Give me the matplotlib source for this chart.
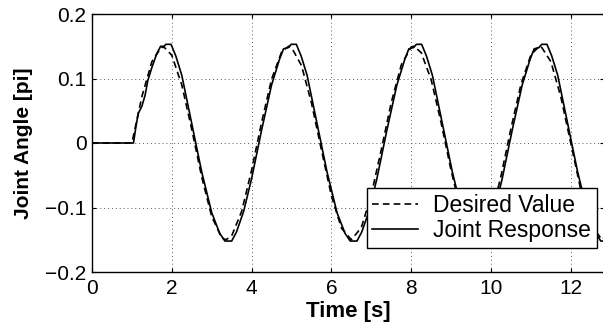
import matplotlib
matplotlib.use("Agg")
import matplotlib.pyplot as plt

plt.rcParams['font.family'] = ['Liberation Sans', 'DejaVu Sans']

# desired joint angle (dashed)
t_desired = [0, 1.0, 1.25, 1.5, 1.75, 1.785, 2.0, 2.25, 2.5, 2.75,
             3.0, 3.25, 3.356, 3.5, 3.75, 4.0, 4.25, 4.5, 4.75, 4.927,
             5.0, 5.25, 5.5, 5.75, 6.0, 6.25, 6.498, 6.75, 7.0, 7.25,
             7.5, 7.75, 8.0, 8.069, 8.25, 8.5, 8.75, 9.0, 9.25, 9.5,
             9.64, 9.75, 10.0, 10.25, 10.5, 10.75, 11.0, 11.211, 11.25, 11.5,
             11.75, 12.0, 12.25, 12.5, 12.782, 13.0]
y_desired = [0, 0, 0.072, 0.126, 0.150, 0.150, 0.136, 0.090, 0.021, -0.053,
             -0.114, -0.147, -0.150, -0.144, -0.106, -0.042, 0.032, 0.099, 0.141, 0.150,
             0.148, 0.120, 0.062, -0.011, -0.082, -0.132, -0.150, -0.131, -0.080, -0.010,
             0.063, 0.121, 0.149, 0.150, 0.140, 0.098, 0.031, -0.043, -0.107, -0.144,
             -0.150, -0.147, -0.113, -0.051, 0.023, 0.091, 0.137, 0.150, 0.150, 0.126,
             0.071, -0.001, -0.073, -0.127, -0.150, -0.136]

# measured joint response (solid)
t_response = [0, 1.04, 1.10, 1.16, 1.25, 1.33, 1.40, 1.50, 1.62, 1.72,
              1.78, 1.85, 1.98, 2.10, 2.25, 2.50, 2.75, 3.00, 3.20, 3.33,
              3.50, 3.62, 3.80, 4.00, 4.25, 4.50, 4.70, 4.80,
              4.92, 4.99, 5.12, 5.24, 5.39, 5.64, 5.89, 6.14, 6.34, 6.47,
              6.64, 6.76, 6.94, 7.14, 7.39, 7.64, 7.84, 7.94,
              8.06, 8.13, 8.26, 8.38, 8.53, 8.78, 9.03, 9.28, 9.48, 9.61,
              9.78, 9.90, 10.08, 10.28, 10.53, 10.78, 10.98, 11.08,
              11.20, 11.27, 11.40, 11.52, 11.67, 11.92, 12.17, 12.42, 12.62, 12.75,
              12.92, 13.04]
y_response = [0, 0, 0.025, 0.046, 0.057, 0.074, 0.097, 0.117, 0.138, 0.150,
              0.148, 0.153, 0.153, 0.135, 0.105, 0.030, -0.045, -0.108, -0.140, -0.152,
              -0.152, -0.138, -0.106, -0.055, 0.020, 0.090, 0.130, 0.146,
              0.148, 0.153, 0.153, 0.135, 0.105, 0.030, -0.045, -0.108, -0.140, -0.152,
              -0.152, -0.138, -0.106, -0.055, 0.020, 0.090, 0.130, 0.146,
              0.148, 0.153, 0.153, 0.135, 0.105, 0.030, -0.045, -0.108, -0.140, -0.152,
              -0.152, -0.138, -0.106, -0.055, 0.020, 0.090, 0.130, 0.146,
              0.148, 0.153, 0.153, 0.135, 0.105, 0.030, -0.045, -0.108, -0.140, -0.152,
              -0.152, -0.138]

x_ticks = [0, 2, 4, 6, 8, 10, 12]
y_ticks = [-0.2, -0.1, 0, 0.1, 0.2]
y_tick_labels = ['\u22120.2', '\u22120.1', '0', '0.1', '0.2']

fig = plt.figure(figsize=(6.03, 3.33), dpi=100)
ax = fig.add_axes([92 / 603, 61 / 333, 512 / 603, 258 / 333])

ax.plot(t_desired, y_desired, color='black', linestyle=(0, (4, 2.5)), linewidth=1.2,
        label='Desired Value')
ax.plot(t_response, y_response, color='black', linestyle='-', linewidth=1.2,
        label='Joint Response')

ax.set_xlim(0, 12.83)
ax.set_ylim(-0.2, 0.2)
ax.set_xticks(x_ticks)
ax.set_yticks(y_ticks)
ax.set_yticklabels(y_tick_labels)
ax.tick_params(direction='in', length=3, width=0.8, labelsize=15,
               top=True, right=True)
ax.tick_params(axis='x', pad=5)
ax.tick_params(axis='y', pad=4)
ax.grid(True, color='0.35', linestyle=(0, (1, 3)), linewidth=0.7)
for s in ax.spines.values():
    s.set_linewidth(1.0)

ax.set_xlabel('Time [s]', fontsize=16, fontweight='bold', labelpad=2)
ax.set_ylabel('Joint Angle [pi]', fontsize=15, fontweight='bold', labelpad=9)

leg = ax.legend(loc='lower right', bbox_to_anchor=(0.986, 0.094), fontsize=16.5,
                handlelength=2.0, handletextpad=0.65, labelspacing=0.1,
                borderpad=0.25, borderaxespad=0, fancybox=False, framealpha=1)
leg.get_frame().set_edgecolor('black')
leg.get_frame().set_linewidth(1.0)

fig.savefig('out.png', dpi=100)
